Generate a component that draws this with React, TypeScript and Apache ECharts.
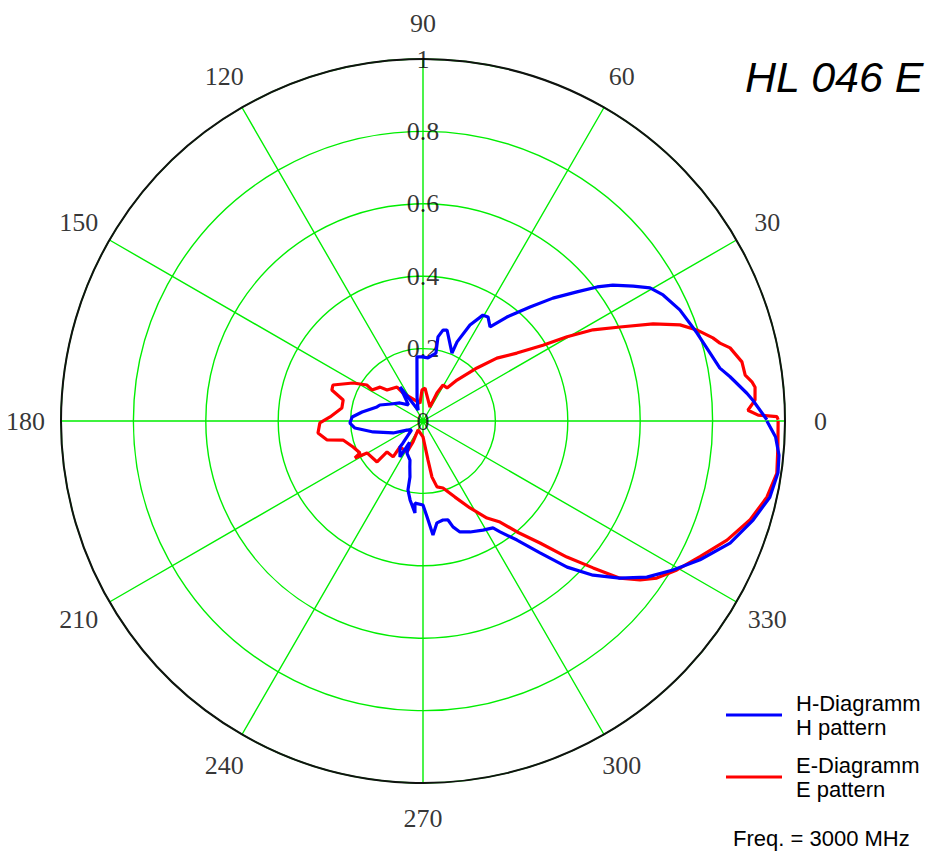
import React, { useEffect, useRef } from 'react';
import * as echarts from 'echarts';

const angleTicks = [0, 30, 60, 90, 120, 150, 180, 210, 240, 270, 300, 330];
const radiusTicks = [0, 0.2, 0.4, 0.6, 0.8, 1];
const titleText = 'HL 046 E';
const freqText = 'Freq. = 3000 MHz';
const hName = 'H-Diagramm\nH pattern';
const eName = 'E-Diagramm\nE pattern';

// [radius, angle in degrees]
const hPattern: [number, number][] = [
  [0.950, 0.2], [0.913, 3.6], [0.898, 4.9], [0.857, 8.2], [0.833, 10.1], [0.815, 13.3],
  [0.795, 17.8], [0.773, 23.4], [0.749, 27.7], [0.727, 30.4], [0.690, 32.7], [0.645, 35.6],
  [0.607, 37.6], [0.555, 40.0], [0.494, 43.4], [0.432, 46.8], [0.369, 51.1], [0.319, 54.5],
  [0.339, 58.0], [0.336, 60.5], [0.295, 63.9], [0.238, 66.7], [0.204, 66.9], [0.260, 75.2],
  [0.257, 77.6], [0.236, 79.9], [0.191, 79.2], [0.175, 85.5], [0.177, 90.9], [0.178, 95.4],
  [0.068, 104], [0.033, 114], [0.113, 124], [0.060, 132], [0.081, 142], [0.100, 152],
  [0.127, 159.6], [0.133, 163], [0.170, 171.6], [0.196, 176.8], [0.202, 181.6], [0.189, 185.9],
  [0.141, 192.4], [0.089, 201.8], [0.051, 209.4], [0.040, 218], [0.082, 227.7], [0.096, 228.5],
  [0.118, 237.4], [0.070, 238], [0.099, 243.4], [0.114, 251.6], [0.132, 254], [0.159, 256.9],
  [0.195, 257.7], [0.221, 260.7], [0.255, 265.0], [0.228, 264.4], [0.232, 270], [0.265, 272.4],
  [0.316, 275.0], [0.284, 277.8], [0.279, 281.4], [0.282, 284.2], [0.304, 285.8], [0.323, 288.4],
  [0.333, 293.0], [0.344, 298.8], [0.353, 303.2], [0.373, 304.8], [0.419, 308.3], [0.487, 311.6],
  [0.567, 314.6], [0.634, 317.8], [0.696, 321.4], [0.754, 325.1], [0.804, 329.2], [0.856, 333.4],
  [0.913, 338.3], [0.952, 343.3], [0.981, 347.6], [0.991, 351.7], [0.988, 354.5], [0.975, 357.4],
  [0.950, 360]
];

const ePattern: [number, number][] = [
  [0.981, 0.2], [0.978, 0.7], [0.926, 1.0], [0.898, 1.9], [0.919, 3.6], [0.922, 5.8],
  [0.915, 6.8], [0.899, 8.1], [0.896, 10.5], [0.872, 13.4], [0.848, 14.7], [0.833, 16.0],
  [0.797, 18.4], [0.758, 20.5], [0.690, 22.9], [0.603, 25.5], [0.533, 28.2], [0.461, 30.3],
  [0.392, 32.3], [0.320, 35.9], [0.268, 40.4], [0.209, 44.5], [0.147, 50.3], [0.113, 54.0],
  [0.114, 60.9], [0.087, 63.4], [0.043, 63.4], [0.091, 86.5], [0.086, 91.8], [0.050, 99.5],
  [0.095, 125.5], [0.118, 127.4], [0.131, 139.3], [0.151, 141.7], [0.165, 148.7], [0.184, 147.3],
  [0.220, 151.5], [0.268, 158.2], [0.266, 161.2], [0.228, 165.3], [0.227, 170.9], [0.257, 177.5],
  [0.285, 181.1], [0.292, 186.5], [0.270, 191.2], [0.227, 193.4], [0.206, 200.4], [0.195, 206.9],
  [0.214, 208.5], [0.178, 209.7], [0.170, 221.7], [0.131, 220.7], [0.129, 230.2], [0.096, 228.5],
  [0.096, 242.7], [0.064, 244.5], [0.028, 240.9], [0.044, 270], [0.109, 277.3], [0.157, 279.1],
  [0.186, 282.0], [0.193, 286.6], [0.228, 292.8], [0.273, 298.4], [0.321, 303.4], [0.351, 307.3],
  [0.402, 310.3], [0.467, 313.8], [0.547, 316.6], [0.621, 319.2], [0.696, 321.4], [0.743, 323.8],
  [0.778, 326.1], [0.813, 329.6], [0.852, 333.9], [0.902, 338.6], [0.944, 343.2], [0.973, 347.5],
  [0.988, 351.6], [0.983, 355.8], [0.981, 360]
];

const angleLabelRadius = 1.098;

export default function App() {
  const ref = useRef<HTMLDivElement>(null);
  useEffect(() => {
    const chart = echarts.init(ref.current!, null, { renderer: 'svg' });
    chart.setOption({
      animation: false,
      backgroundColor: '#ffffff',
      title: {
        text: titleText,
        left: 745,
        top: 55,
        padding: 0,
        textStyle: {
          fontFamily: 'Liberation Sans',
          fontStyle: 'italic',
          fontWeight: 'normal',
          fontSize: 43,
          lineHeight: 43,
          color: '#000'
        }
      },
      polar: { center: [423, 421], radius: 362 },
      angleAxis: {
        type: 'value',
        min: 0,
        max: 360,
        interval: 30,
        startAngle: 0,
        clockwise: false,
        axisLine: { show: true, lineStyle: { color: '#111', width: 2 } },
        axisTick: { show: false },
        axisLabel: { show: false },
        splitLine: { show: true, lineStyle: { color: '#00ee00', width: 1.4 } }
      },
      radiusAxis: {
        type: 'value',
        min: 0,
        max: 1,
        interval: 0.2,
        axisLine: { show: false },
        axisTick: { show: false },
        axisLabel: { show: false },
        splitLine: { show: true, lineStyle: { color: '#00ee00', width: 1.4 } }
      },
      legend: {
        data: [hName, eName],
        orient: 'vertical',
        left: 726,
        top: 691,
        padding: 0,
        itemWidth: 56,
        itemHeight: 3,
        itemGap: 14,
        icon: 'rect',
        selectedMode: false,
        textStyle: {
          fontFamily: 'Liberation Sans',
          fontSize: 22,
          lineHeight: 24,
          color: '#000',
          padding: [0, 0, 0, 9]
        }
      },
      graphic: [
        {
          type: 'text',
          left: 733,
          top: 827,
          silent: true,
          style: {
            text: freqText,
            fontFamily: 'Liberation Sans',
            fontSize: 22,
            fill: '#000'
          }
        }
      ],
      series: [
        {
          type: 'scatter',
          coordinateSystem: 'polar',
          data: angleTicks.map((a) => [angleLabelRadius, a]),
          symbolSize: 1,
          clip: false,
          silent: true,
          z: 1,
          itemStyle: { color: 'rgba(0,0,0,0)' },
          label: {
            show: true,
            position: 'inside',
            formatter: (p: any) => String(p.value[1]),
            fontFamily: 'Liberation Serif',
            fontSize: 26,
            color: '#000'
          }
        },
        {
          type: 'scatter',
          coordinateSystem: 'polar',
          data: radiusTicks.map((r) => [r, 90]),
          symbolSize: 1,
          clip: false,
          silent: true,
          z: 1,
          itemStyle: { color: 'rgba(0,0,0,0)' },
          label: {
            show: true,
            position: 'inside',
            formatter: (p: any) => String(p.value[0]),
            fontFamily: 'Liberation Serif',
            fontSize: 26,
            color: '#000'
          }
        },
        {
          name: eName,
          type: 'line',
          coordinateSystem: 'polar',
          data: ePattern,
          symbol: 'none',
          showSymbol: false,
          z: 3,
          itemStyle: { color: '#ff0000' },
          lineStyle: { color: '#ff0000', width: 3.2 }
        },
        {
          name: hName,
          type: 'line',
          coordinateSystem: 'polar',
          data: hPattern,
          symbol: 'none',
          showSymbol: false,
          z: 4,
          itemStyle: { color: '#0000ff' },
          lineStyle: { color: '#0000ff', width: 3.2 }
        }
      ]
    });
    return () => chart.dispose();
  }, []);
  return (
    <div
      ref={ref}
      style={{ position: 'absolute', left: 0, top: 0, width: 932, height: 853 }}
    />
  );
}
